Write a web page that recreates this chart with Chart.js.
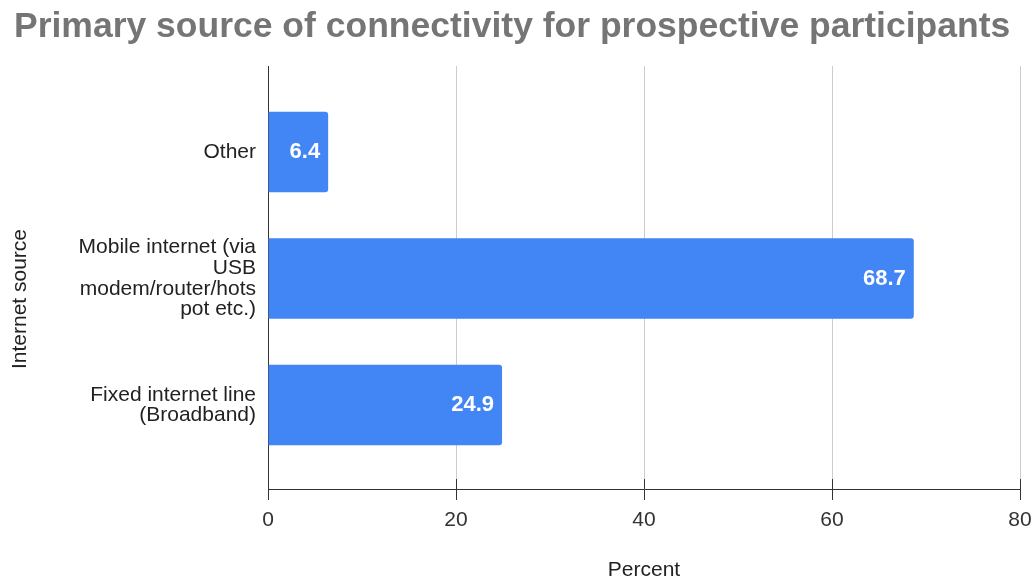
<!DOCTYPE html>
<html>
<head>
    <title>Primary source of connectivity</title>
    <script src="https://cdn.jsdelivr.net/npm/chart.js"></script>
    <style>
        html, body {
            margin: 0;
            padding: 0;
            background: #fff;
        }
        .chart-box {
            width: 1035px;
            height: 580px;
            position: relative;
        }
    </style>
</head>
<body>
    <div class="chart-box">
        <canvas id="myChart"></canvas>
    </div>

    <script>
        // categories top to bottom, split over lines the way they wrap
        const sources = [
            ['Other'],
            ['Mobile internet (via', 'USB', 'modem/router/hots', 'pot etc.)'],
            ['Fixed internet line', '(Broadband)']
        ];
        const percents = [6.4, 68.7, 24.9];
        const percentTicks = [0, 20, 40, 60, 80];

        const FONT = '"Liberation Sans", Arial, sans-serif';
        const BLUE = '#4285F4';

        // white value text at the end of each bar
        const valueLabels = {
            id: 'valueLabels',
            afterDatasetsDraw(chart) {
                const ctx = chart.ctx;
                const meta = chart.getDatasetMeta(0);
                ctx.save();
                ctx.font = 'bold 22px ' + FONT;
                ctx.fillStyle = '#fff';
                ctx.textAlign = 'right';
                ctx.textBaseline = 'middle';
                meta.data.forEach((bar, i) => {
                    ctx.fillText(percents[i].toFixed(1), bar.x - 8, bar.y);
                });
                ctx.restore();
            }
        };

        // tick marks poking up through the x axis, plus the y axis title
        const axisExtras = {
            id: 'axisExtras',
            afterDraw(chart) {
                const ctx = chart.ctx;
                const xs = chart.scales.x;
                const bottom = chart.chartArea.bottom;
                ctx.save();
                ctx.strokeStyle = '#333';
                ctx.lineWidth = 1;
                xs.ticks.forEach(t => {
                    if (t.value === 0) return;
                    const px = Math.round(xs.getPixelForValue(t.value)) + 0.5;
                    ctx.beginPath();
                    ctx.moveTo(px, bottom - 10);
                    ctx.lineTo(px, bottom);
                    ctx.stroke();
                });

                ctx.translate(20, 299);
                ctx.rotate(-Math.PI / 2);
                ctx.font = '21px ' + FONT;
                ctx.fillStyle = '#222';
                ctx.textAlign = 'center';
                ctx.textBaseline = 'middle';
                ctx.fillText('Internet source', 0, 0);
                ctx.restore();
            }
        };

        const ctx = document.getElementById('myChart').getContext('2d');

        const myChart = new Chart(ctx, {
            type: 'bar',
            data: {
                datasets: [{
                    label: 'Percent',
                    data: percents.map((v, i) => ({ x: v, y: i })),
                    backgroundColor: BLUE,
                    borderRadius: 3,
                    borderSkipped: 'start',
                    categoryPercentage: 1,
                    barPercentage: 0.635
                }]
            },
            options: {
                indexAxis: 'y',
                responsive: true,
                maintainAspectRatio: false,
                animation: false,
                layout: {
                    padding: { left: 14, right: 15, top: 0, bottom: 0 }
                },
                plugins: {
                    legend: { display: false },
                    tooltip: { enabled: false },
                    title: {
                        display: true,
                        text: 'Primary source of connectivity for prospective participants',
                        align: 'start',
                        color: '#757575',
                        font: { family: FONT, size: 35.5, weight: 'bold', lineHeight: 1.2 },
                        padding: { top: 5.7, bottom: 17.7 }
                    }
                },
                scales: {
                    x: {
                        type: 'linear',
                        min: percentTicks[0],
                        max: percentTicks[percentTicks.length - 1],
                        ticks: {
                            stepSize: 20,
                            color: '#333',
                            padding: 8,
                            font: { family: FONT, size: 21 }
                        },
                        grid: {
                            color: c => (c.tick && c.tick.value === 0) ? 'rgba(0,0,0,0)' : '#cccccc',
                            tickColor: '#333',
                            tickLength: 11
                        },
                        border: { display: true, color: '#333', width: 1 },
                        title: {
                            display: true,
                            text: 'Percent',
                            color: '#222',
                            font: { family: FONT, size: 21, lineHeight: 1 },
                            padding: { top: 0, bottom: -1 }
                        },
                        afterFit(scale) {
                            scale.height = 91;
                            scale.paddingLeft = 0;
                            scale.paddingRight = 0;
                        }
                    },
                    y: {
                        type: 'linear',
                        reverse: true,
                        offset: false,
                        min: -0.68,
                        max: 2.664,
                        bounds: 'data',
                        afterBuildTicks(scale) {
                            scale.ticks = sources.map((s, i) => ({ value: i }));
                        },
                        ticks: {
                            color: '#222',
                            padding: 12,
                            font: { family: FONT, size: 21, lineHeight: 0.98 },
                            callback: v => sources[v]
                        },
                        grid: { display: false, drawTicks: false, offset: false },
                        border: { display: true, color: '#333', width: 1 },
                        afterFit(scale) {
                            scale.width = 254;
                            scale.paddingTop = 0;
                            scale.paddingBottom = 0;
                        }
                    }
                }
            },
            plugins: [valueLabels, axisExtras]
        });
    </script>
</body>
</html>
